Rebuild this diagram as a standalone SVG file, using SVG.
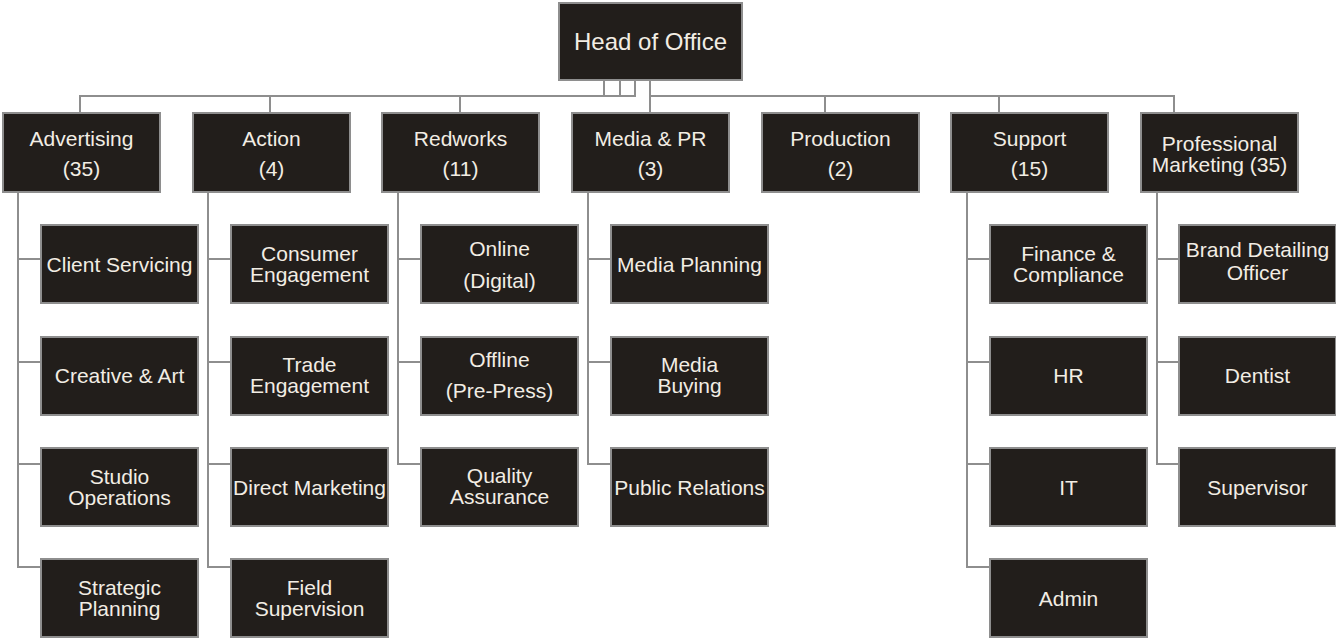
<svg xmlns="http://www.w3.org/2000/svg" width="1336" height="638" viewBox="0 0 1336 638">
<style>
.box{fill:#221e1b;stroke:#8e8e8e;stroke-width:2}
.t{font-family:"Liberation Sans",Arial,sans-serif;font-size:21px;fill:#f2ede4;text-anchor:middle}
.h{font-size:24px}
.c{fill:none;stroke:#8e8e8e;stroke-width:2}
</style>
<rect width="1336" height="638" fill="#ffffff"/>
<g id="connectors" class="c">
<path d="M604 80V96M620 80V96M635 80V96H80V113M270 96V113M460 96V113"/>
<path d="M650 80V113M650 96H1174V113M825 96V113M999 96V113"/>
<path d="M18 192V567H41M18 259H41M18 362H41M18 464H41"/>
<path d="M208 192V567H231M208 259H231M208 362H231M208 464H231"/>
<path d="M398 192V464H421M398 259H421M398 362H421"/>
<path d="M588 192V464H611M588 259H611M588 362H611"/>
<path d="M967 192V567H990M967 259H990M967 362H990M967 464H990"/>
<path d="M1157 192V464H1179M1157 259H1179M1157 362H1179"/>
</g>
<g id="head"><rect class="box" x="559" y="3" width="183" height="77"/><text class="t h" x="650.5" y="50">Head of Office</text></g>
<g id="advertising"><rect class="box" x="3" y="113" width="157" height="79"/><text class="t" x="81.5" y="146">Advertising</text><text class="t" x="81.5" y="176">(35)</text></g>
<g id="action"><rect class="box" x="193" y="113" width="157" height="79"/><text class="t" x="271.5" y="146">Action</text><text class="t" x="271.5" y="176">(4)</text></g>
<g id="redworks"><rect class="box" x="382" y="113" width="157" height="79"/><text class="t" x="460.5" y="146">Redworks</text><text class="t" x="460.5" y="176">(11)</text></g>
<g id="media-pr"><rect class="box" x="572" y="113" width="157" height="79"/><text class="t" x="650.5" y="146">Media &amp; PR</text><text class="t" x="650.5" y="176">(3)</text></g>
<g id="production"><rect class="box" x="762" y="113" width="157" height="79"/><text class="t" x="840.5" y="146">Production</text><text class="t" x="840.5" y="176">(2)</text></g>
<g id="support"><rect class="box" x="951" y="113" width="157" height="79"/><text class="t" x="1029.5" y="146">Support</text><text class="t" x="1029.5" y="176">(15)</text></g>
<g id="professional-marketing"><rect class="box" x="1141" y="113" width="157" height="79"/><text class="t" x="1219.5" y="151">Professional</text><text class="t" x="1219.5" y="172">Marketing (35)</text></g>

<g id="client-servicing"><rect class="box" x="41" y="225" width="157" height="78"/><text class="t" x="119.5" y="272">Client Servicing</text></g>
<g id="creative-art"><rect class="box" x="41" y="337" width="157" height="78"/><text class="t" x="119.5" y="383">Creative &amp; Art</text></g>
<g id="studio-operations"><rect class="box" x="41" y="448" width="157" height="78"/><text class="t" x="119.5" y="484">Studio</text><text class="t" x="119.5" y="505">Operations</text></g>
<g id="strategic-planning"><rect class="box" x="41" y="559" width="157" height="78"/><text class="t" x="119.5" y="595">Strategic</text><text class="t" x="119.5" y="616">Planning</text></g>

<g id="consumer-engagement"><rect class="box" x="231" y="225" width="157" height="78"/><text class="t" x="309.5" y="261">Consumer</text><text class="t" x="309.5" y="282">Engagement</text></g>
<g id="trade-engagement"><rect class="box" x="231" y="337" width="157" height="78"/><text class="t" x="309.5" y="372">Trade</text><text class="t" x="309.5" y="393">Engagement</text></g>
<g id="direct-marketing"><rect class="box" x="231" y="448" width="157" height="78"/><text class="t" x="309.5" y="495">Direct Marketing</text></g>
<g id="field-supervision"><rect class="box" x="231" y="559" width="157" height="78"/><text class="t" x="309.5" y="595">Field</text><text class="t" x="309.5" y="616">Supervision</text></g>

<g id="online"><rect class="box" x="421" y="225" width="157" height="78"/><text class="t" x="499.5" y="256">Online</text><text class="t" x="499.5" y="288">(Digital)</text></g>
<g id="offline"><rect class="box" x="421" y="337" width="157" height="78"/><text class="t" x="499.5" y="367">Offline</text><text class="t" x="499.5" y="398">(Pre-Press)</text></g>
<g id="quality-assurance"><rect class="box" x="421" y="448" width="157" height="78"/><text class="t" x="499.5" y="483">Quality</text><text class="t" x="499.5" y="504">Assurance</text></g>

<g id="media-planning"><rect class="box" x="611" y="225" width="157" height="78"/><text class="t" x="689.5" y="272">Media Planning</text></g>
<g id="media-buying"><rect class="box" x="611" y="337" width="157" height="78"/><text class="t" x="689.5" y="372">Media</text><text class="t" x="689.5" y="393">Buying</text></g>
<g id="public-relations"><rect class="box" x="611" y="448" width="157" height="78"/><text class="t" x="689.5" y="495">Public Relations</text></g>

<g id="finance-compliance"><rect class="box" x="990" y="225" width="157" height="78"/><text class="t" x="1068.5" y="261">Finance &amp;</text><text class="t" x="1068.5" y="282">Compliance</text></g>
<g id="hr"><rect class="box" x="990" y="337" width="157" height="78"/><text class="t" x="1068.5" y="383">HR</text></g>
<g id="it"><rect class="box" x="990" y="448" width="157" height="78"/><text class="t" x="1068.5" y="495">IT</text></g>
<g id="admin"><rect class="box" x="990" y="559" width="157" height="78"/><text class="t" x="1068.5" y="606">Admin</text></g>

<g id="brand-detailing-officer"><rect class="box" x="1179" y="225" width="157" height="78"/><text class="t" x="1257.5" y="257">Brand Detailing</text><text class="t" x="1257.5" y="280">Officer</text></g>
<g id="dentist"><rect class="box" x="1179" y="337" width="157" height="78"/><text class="t" x="1257.5" y="383">Dentist</text></g>
<g id="supervisor"><rect class="box" x="1179" y="448" width="157" height="78"/><text class="t" x="1257.5" y="495">Supervisor</text></g>
</svg>
